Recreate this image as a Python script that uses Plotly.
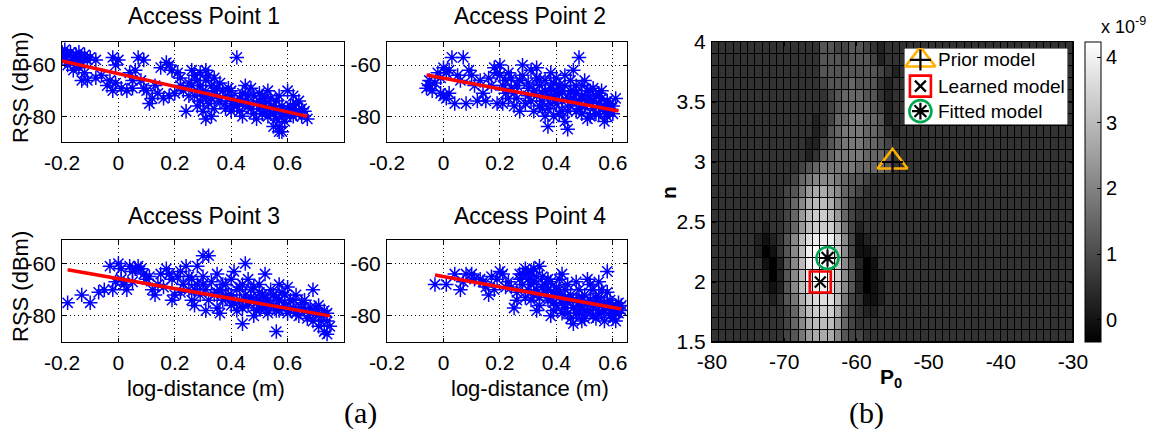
import plotly.graph_objects as go

W, H = 1163, 435

# ---------------- data ----------------
AP1_POINTS = [(-0.20,-55),(-0.19,-54),(-0.18,-56),(-0.17,-55),(-0.16,-57),(-0.15,-56),(-0.14,-55),(-0.13,-57),(-0.12,-56),
    (-0.19,-58),(-0.17,-59),(-0.15,-60),(-0.13,-59),(-0.11,-58),(-0.10,-57),(-0.08,-58),(-0.16,-62),(-0.14,-61),(-0.12,-63),
    (-0.11,-66),(-0.13,-66),(-0.08,-65),(-0.06,-64),(-0.02,-57),(0.00,-58),(-0.01,-60),(-0.03,-66),(-0.01,-67),(-0.02,-70),
    (0.01,-69),(0.03,-70),(0.05,-69),(0.07,-57),(0.09,-58),(0.06,-62),(0.04,-63),(0.08,-66),(0.09,-69),(0.10,-70),(0.11,-75),
    (0.12,-73),(0.14,-71),(0.15,-61),(0.17,-59),(0.18,-60),(0.19,-62),(0.16,-73),(0.18,-72),(0.20,-71),(0.21,-63),(0.22,-65),
    (0.24,-78),(0.23,-70),(0.25,-67),(0.26,-62),(0.27,-64),(0.28,-66),(0.29,-68),(0.30,-70),(0.30,-72),(0.29,-74),(0.31,-66),
    (0.32,-64),(0.33,-68),(0.34,-70),(0.35,-72),(0.32,-75),(0.34,-77),(0.30,-78),(0.31,-81),(0.33,-80),(0.36,-74),(0.37,-70),
    (0.38,-72),(0.28,-76),(0.27,-72),(0.42,-57),(0.39,-69),(0.40,-72),(0.41,-74),(0.42,-76),(0.43,-78),(0.44,-71),(0.45,-74),
    (0.46,-76),(0.45,-68),(0.47,-69),(0.48,-79),(0.48,-72),(0.50,-74),(0.50,-77),(0.51,-72),(0.52,-75),(0.52,-78),(0.53,-80),
    (0.53,-70),(0.54,-73),(0.55,-76),(0.55,-79),(0.56,-74),(0.56,-81),(0.57,-78),(0.57,-84),(0.58,-80),(0.58,-86),(0.59,-82),
    (0.60,-70),(0.60,-77),(0.61,-79),(0.62,-72),(0.63,-75),(0.64,-74),(0.65,-77),(0.65,-80),(0.66,-78),(0.67,-81),(0.62,-80),
    (0.49,-81),(0.44,-80),(0.40,-78),(0.38,-77),
    (0.26,-68),(0.28,-70),(0.31,-72),(0.33,-73),(0.35,-69),(0.36,-67),(0.38,-75),(0.40,-70),(0.41,-76),(0.43,-73),(0.44,-75),
    (0.46,-72),(0.47,-77),(0.49,-75),(0.50,-71),(0.51,-79),(0.52,-73),(0.54,-76),(0.54,-79),(0.56,-77),(0.57,-72),(0.58,-76),
    (0.59,-79),(0.61,-76),(0.62,-77),(0.63,-79),(0.64,-78),(0.55,-84),(0.57,-86),(0.29,-63),(0.31,-62),(0.34,-65),(0.25,-72),
    (0.22,-68),(0.13,-68),(0.05,-66),(-0.04,-68),(-0.18,-60),(-0.20,-57),(-0.15,-58)]
AP2_POINTS = [(-0.06,-69),(-0.05,-68),(-0.04,-70),(-0.05,-66),(-0.02,-63),(-0.01,-65),(0.00,-61),(0.01,-63),(0.02,-62),
    (-0.01,-71),(0.00,-72),(0.01,-73),(0.02,-71),(0.03,-57),(0.07,-57),(0.04,-75),(0.08,-75),(0.09,-62),(0.06,-66),(0.05,-64),
    (0.11,-68),(0.12,-74),(0.15,-74),(0.13,-66),(0.16,-65),(0.18,-61),(0.20,-60),(0.19,-63),(0.19,-75),(0.21,-75),(0.22,-66),
    (0.23,-63),(0.24,-69),(0.25,-71),(0.25,-76),(0.26,-73),(0.27,-66),(0.28,-64),(0.30,-67),(0.31,-62),(0.30,-72),(0.32,-78),
    (0.32,-70),(0.33,-65),(0.34,-68),(0.35,-71),(0.35,-74),(0.36,-66),(0.37,-84),(0.37,-77),(0.38,-69),(0.39,-80),(0.39,-72),
    (0.40,-65),(0.40,-75),(0.41,-68),(0.42,-70),(0.42,-78),(0.43,-82),(0.44,-85),(0.44,-73),(0.45,-66),(0.45,-76),(0.46,-62),
    (0.46,-70),(0.47,-68),(0.48,-57),(0.48,-74),(0.49,-72),(0.49,-79),(0.50,-66),(0.50,-76),(0.51,-70),(0.51,-81),(0.52,-73),
    (0.53,-69),(0.53,-77),(0.54,-72),(0.55,-75),(0.55,-79),(0.56,-70),(0.57,-76),(0.58,-80),(0.58,-74),(0.59,-78),(0.60,-76),
    (0.61,-73),(0.57,-82),(0.52,-80),(0.47,-78),(0.41,-79),(0.36,-80),(0.34,-76),(0.29,-75),(0.27,-78),(0.22,-71),(0.17,-68),
    (0.14,-71),(0.43,-64),(0.38,-63),(0.33,-61),(0.28,-60),(0.21,-68),(0.10,-64),
    (0.30,-69),(0.31,-74),(0.33,-72),(0.34,-66),(0.36,-70),(0.37,-72),(0.38,-75),(0.39,-67),(0.41,-71),(0.42,-74),(0.43,-68),
    (0.44,-78),(0.46,-73),(0.47,-71),(0.48,-77),(0.50,-73),(0.51,-75),(0.52,-70),(0.53,-74),(0.54,-79),(0.56,-73),(0.57,-78),
    (0.58,-77),(0.59,-75),(0.60,-79),(0.55,-71),(0.49,-68),(0.45,-70),(0.40,-70),(0.35,-77),(0.26,-68),(0.23,-73),(0.20,-64),
    (0.24,-65),(-0.03,-67)]
AP3_POINTS = [(-0.18,-75),(-0.13,-72),(-0.10,-75),(-0.07,-71),(-0.05,-70),(-0.02,-70),(-0.03,-61),(0.00,-60),(0.01,-62),
    (-0.01,-67),(0.01,-66),(0.02,-68),(0.03,-70),(0.04,-61),(0.05,-63),(0.06,-62),(0.07,-61),(0.08,-62),(0.09,-64),(0.10,-66),
    (0.11,-65),(0.12,-70),(0.13,-72),(0.14,-68),(0.17,-62),(0.18,-64),(0.19,-74),(0.19,-66),(0.20,-72),(0.21,-65),(0.22,-63),
    (0.23,-68),(0.24,-61),(0.25,-70),(0.26,-74),(0.26,-66),(0.27,-76),(0.28,-61),(0.28,-68),(0.29,-72),(0.30,-57),(0.30,-65),
    (0.31,-70),(0.32,-57),(0.32,-74),(0.33,-67),(0.34,-72),(0.35,-77),(0.35,-64),(0.36,-70),(0.37,-74),(0.38,-68),(0.39,-72),
    (0.40,-66),(0.40,-76),(0.41,-63),(0.42,-70),(0.42,-78),(0.43,-74),(0.44,-83),(0.44,-68),(0.45,-60),(0.45,-72),(0.46,-66),
    (0.46,-76),(0.47,-70),(0.48,-74),(0.49,-78),(0.50,-71),(0.50,-68),(0.51,-75),(0.52,-73),(0.53,-79),(0.54,-70),(0.55,-76),
    (0.56,-86),(0.56,-73),(0.57,-78),(0.58,-71),(0.59,-75),(0.60,-69),(0.60,-79),(0.61,-74),(0.62,-77),(0.63,-72),(0.64,-80),
    (0.65,-75),(0.66,-78),(0.67,-81),(0.68,-77),(0.69,-70),(0.69,-82),(0.70,-79),(0.71,-76),(0.71,-84),(0.72,-80),(0.73,-86),
    (0.73,-78),(0.74,-82),(0.74,-87),(0.75,-84),(0.36,-79),(0.31,-78),(0.52,-64),(0.57,-68),(0.48,-80),
    (0.35,-71),(0.37,-68),(0.38,-73),(0.40,-72),(0.41,-75),(0.43,-69),(0.44,-77),(0.45,-74),(0.47,-73),(0.48,-69),(0.49,-75),
    (0.50,-77),(0.51,-72),(0.52,-77),(0.53,-74),(0.54,-76),(0.55,-72),(0.56,-78),(0.57,-74),(0.58,-77),(0.59,-72),(0.61,-78),
    (0.62,-74),(0.63,-79),(0.65,-77),(0.66,-74),(0.68,-79),(0.70,-77),(0.72,-82),(0.74,-79),(0.30,-68),(0.27,-70),(0.25,-65),
    (0.22,-71),(0.16,-69),(0.15,-64),(0.05,-67)]
AP4_POINTS = [(-0.03,-68),(0.01,-68),(0.04,-64),(0.06,-70),(0.08,-64),(0.10,-64),(0.07,-67),(0.13,-66),(0.14,-67),(0.16,-72),
    (0.17,-65),(0.20,-63),(0.21,-64),(0.22,-69),(0.18,-70),(0.25,-77),(0.27,-66),(0.28,-68),(0.29,-62),(0.31,-63),(0.30,-70),
    (0.32,-72),(0.33,-65),(0.34,-61),(0.35,-65),(0.36,-68),(0.37,-74),(0.38,-67),(0.39,-71),(0.40,-76),(0.40,-69),(0.41,-73),
    (0.42,-64),(0.42,-79),(0.43,-70),(0.44,-75),(0.45,-72),(0.45,-81),(0.46,-83),(0.46,-77),(0.47,-74),(0.48,-70),(0.48,-79),
    (0.49,-76),(0.50,-72),(0.50,-81),(0.51,-66),(0.51,-78),(0.52,-74),(0.53,-70),(0.53,-80),(0.54,-76),(0.55,-67),(0.55,-73),
    (0.56,-79),(0.57,-82),(0.57,-75),(0.58,-63),(0.58,-71),(0.59,-78),(0.59,-74),(0.60,-81),(0.60,-76),(0.61,-79),(0.62,-77),
    (0.62,-75),(0.63,-78),(0.56,-70),(0.52,-68),(0.47,-67),(0.44,-68),(0.34,-76),(0.31,-74),(0.29,-73),(0.26,-71),(0.23,-67),
    (0.36,-71),(0.39,-78),(0.43,-77),(0.49,-82),(0.54,-81),(0.61,-82),(0.28,-64),(0.32,-67),(0.37,-66),(0.41,-66),(0.33,-78),
    (0.38,-80),(0.26,-74),
    (0.30,-66),(0.31,-68),(0.33,-70),(0.34,-73),(0.35,-69),(0.37,-70),(0.38,-73),(0.39,-75),(0.40,-72),(0.41,-70),(0.42,-75),
    (0.43,-73),(0.44,-79),(0.46,-74),(0.47,-79),(0.48,-76),(0.49,-73),(0.50,-78),(0.51,-75),(0.52,-78),(0.53,-76),(0.54,-73),
    (0.55,-79),(0.56,-76),(0.57,-78),(0.58,-75),(0.59,-80),(0.60,-78),(0.61,-76),(0.62,-79),(0.63,-76),(0.32,-62),(0.30,-64),
    (0.27,-64),(0.24,-69),(0.19,-66),(0.15,-69),(0.11,-66)]

AP1_FIT_X, AP1_FIT_Y = [-0.20, 0.67], [-58.4, -80.0]
AP2_FIT_X, AP2_FIT_Y = [-0.06, 0.62], [-63.9, -77.9]
AP3_FIT_X, AP3_FIT_Y = [-0.18, 0.75], [-62.4, -80.0]
AP4_FIT_X, AP4_FIT_Y = [-0.03, 0.63], [-64.4, -77.4]

AP_TITLES = ["Access Point 1", "Access Point 2", "Access Point 3", "Access Point 4"]
X_TICKS = [-0.2, 0, 0.2, 0.4, 0.6]
X_TICK_TEXT = ["-0.2", "0", "0.2", "0.4", "0.6"]
Y_TICKS = [-80, -60]
Y_TICK_TEXT = ["-80", "-60"]

# heatmap: cell edges and grey levels (0 = black ... f = white), rows from n=4 (top) down to n=1.5
P0_EDGES = list(range(-80, -29))
N_EDGES = [1.5,1.6,1.7,1.8,1.9,2.0,2.1,2.2,2.3,2.4,2.5,2.6,2.7,2.8,2.9,3.0,3.1,3.2,3.3,3.4,3.5,3.6,3.7,3.8,3.9,4.0]
LEVEL_ROWS_TOP_DOWN = [
    "3333333333 3333355445 5432333333 3333333333 3333333333",
    "3333333333 3333355545 5542333333 3333333333 3333333333",
    "3333333333 3333355555 5554323333 3333333333 3333333333",
    "3333333333 3333345556 5553233333 3333333333 3333333333",
    "3333333333 3333334566 6553233333 3333333333 3333333333",
    "3333333333 3333334566 6654233333 3333333333 3333333333",
    "3333333333 3333234667 7665233333 3333333333 3333333333",
    "3333333333 3333235677 7665323333 3333333333 3333333333",
    "3333333333 3332245677 7665433333 3333333333 3333333333",
    "3333333333 3332356777 7666533333 3333333333 3333333333",
    "3333333333 3345677777 6666533333 3333333333 3333333333",
    "3333333333 3467888765 5433333333 3333333333 3333333333",
    "3333333333 4579aa9865 4333333333 3333333333 3333333333",
    "3333333333 468abba864 3333333333 3333333333 3333333333",
    "3333333333 469bccb964 3333333333 3333333333 3333333333",
    "3333333233 469bccca74 2333333333 3333333333 3333333333",
    "3333332123 58bdeeec84 1233333333 3333333333 3333333333",
    "3333332013 58beffec84 1123333333 3333333333 3333333333",
    "3333333102 58befffc85 2013333333 3333333333 3333333333",
    "3333333202 58beffec85 2012333333 3333333333 3333333333",
    "3333333212 58bdeeeb85 2012333333 3333333333 3333333333",
    "3333333323 57acdddb74 3112333333 3333333333 3333333333",
    "3333333333 469bccca64 3223333333 3333333333 3333333333",
    "3333333333 468abbb964 3333333333 3333333333 3333333333",
    "3333333333 4579aaa854 4333333333 3333333333 3333333333",
]
Z_MIN, Z_MAX = -0.34, 4.23          # colour bar limits (x 1e-9)
CB_TICKS = [0, 1, 2, 3, 4]
P0_TICKS = [-80, -70, -60, -50, -40, -30]
N_TICKS = [1.5, 2, 2.5, 3, 3.5, 4]

PRIOR = (-55, 3.0)
LEARNED = (-65, 2.0)
FITTED = (-64, 2.2)
LEGEND_LABELS = ["Prior model", "Learned model", "Fitted model"]

# ---------------- helpers ----------------
FONT = "Liberation Sans, Arial, Helvetica, sans-serif"
def fx(p): return p / W
def fy(p): return 1 - p / H

fig = go.Figure()

panels = [
    (AP1_POINTS, AP1_FIT_X, AP1_FIT_Y, (62, 344), (42, 142), [-0.2, 0.8]),
    (AP2_POINTS, AP2_FIT_X, AP2_FIT_Y, (387, 627), (42, 142), [-0.2, 0.65]),
    (AP3_POINTS, AP3_FIT_X, AP3_FIT_Y, (62, 344), (240, 342), [-0.2, 0.8]),
    (AP4_POINTS, AP4_FIT_X, AP4_FIT_Y, (387, 627), (240, 342), [-0.2, 0.65]),
]
layout_axes = {}
for i, (pts, lx, ly, dx, dy, xr) in enumerate(panels, start=1):
    xs = [p[0] for p in pts]
    ys = [p[1] for p in pts]
    xa, ya = f"x{i}", f"y{i}"
    fig.add_trace(go.Scatter(x=xs, y=ys, mode="markers", xaxis=xa, yaxis=ya, showlegend=False,
                             marker=dict(symbol="asterisk-open", size=12, color="#0000FF",
                                         line=dict(color="#0000FF", width=1.5))))
    fig.add_trace(go.Scatter(x=lx, y=ly, mode="lines", xaxis=xa, yaxis=ya, showlegend=False,
                             line=dict(color="#FF0000", width=3.5)))
    common = dict(showline=True, linecolor="black", linewidth=1, mirror="allticks", ticks="inside",
                  ticklen=4, tickcolor="black", showgrid=True, gridcolor="black", griddash="1px,3px",
                  gridwidth=1, zeroline=False, automargin=False,
                  tickfont=dict(family=FONT, size=21, color="black"))
    layout_axes[f"xaxis{i}"] = dict(domain=[fx(dx[0]), fx(dx[1])], range=xr, anchor=ya,
                                    tickvals=X_TICKS, ticktext=X_TICK_TEXT, ticklabelstandoff=2, **common)
    layout_axes[f"yaxis{i}"] = dict(domain=[fy(dy[1]), fy(dy[0])], range=[-90, -51], anchor=xa,
                                    tickvals=Y_TICKS, ticktext=Y_TICK_TEXT, ticklabelstandoff=1, **common)

# heatmap
rows = [r.replace(" ", "") for r in LEVEL_ROWS_TOP_DOWN][::-1]
z = [[Z_MIN + int(c, 16) / 15 * (Z_MAX - Z_MIN) for c in row] for row in rows]
fig.add_trace(go.Heatmap(z=z, x=P0_EDGES, y=N_EDGES, xaxis="x5", yaxis="y5",
                         colorscale=[[0, "#000000"], [1, "#FFFFFF"]], zmin=Z_MIN, zmax=Z_MAX,
                         xgap=1, ygap=1, hoverinfo="skip",
                         colorbar=dict(x=fx(1085), xanchor="left", y=fy(342), yanchor="bottom",
                                       len=300 / H, lenmode="fraction", thickness=16, thicknessmode="pixels",
                                       xpad=0, ypad=0, outlinecolor="black", outlinewidth=1,
                                       tickvals=CB_TICKS, ticktext=[str(t) for t in CB_TICKS],
                                       ticks="inside", ticklen=4, tickcolor="black",
                                       tickfont=dict(family=FONT, size=20, color="black"))))

def model_markers(pt, outer, outer_color, outer_size, inner, inner_size, xa, ya):
    fig.add_trace(go.Scatter(x=[pt[0]], y=[pt[1]], mode="markers", xaxis=xa, yaxis=ya, showlegend=False,
                             hoverinfo="skip",
                             marker=dict(symbol=outer, size=outer_size, color=outer_color,
                                         line=dict(color=outer_color, width=2.6))))
    fig.add_trace(go.Scatter(x=[pt[0]], y=[pt[1]], mode="markers", xaxis=xa, yaxis=ya, showlegend=False,
                             hoverinfo="skip",
                             marker=dict(symbol=inner, size=inner_size, color="black",
                                         line=dict(color="black", width=2.2))))

ORANGE, RED, GREEN = "#FFB000", "#FF0000", "#00A651"
model_markers(PRIOR, "triangle-up-open", ORANGE, 26, "cross-thin-open", 15, "x5", "y5")
model_markers(LEARNED, "square-open", RED, 21, "x-thin-open", 11, "x5", "y5")
model_markers(FITTED, "circle-open", GREEN, 22, "asterisk-open", 14, "x5", "y5")

hm_common = dict(showline=True, linecolor="black", linewidth=1, mirror="allticks", ticks="inside",
                 ticklen=4, tickcolor="black", showgrid=False, zeroline=False, automargin=False,
                 tickfont=dict(family=FONT, size=21, color="black"))
layout_axes["xaxis5"] = dict(domain=[fx(712), fx(1073)], range=[-80, -30], anchor="y5",
                             tickvals=P0_TICKS, ticktext=[str(t) for t in P0_TICKS], ticklabelstandoff=1, **hm_common)
layout_axes["yaxis5"] = dict(domain=[fy(342), fy(42)], range=[1.5, 4], anchor="x5",
                             tickvals=N_TICKS, ticktext=["1.5", "2", "2.5", "3", "3.5", "4"], ticklabelstandoff=1,
                             **hm_common)

# legend drawn in its own small subplot
LEG_ROW_Y = [0.845, 0.505, 0.18]
fig.add_trace(go.Scatter(x=[0, 1, 1, 0, 0], y=[0, 0, 1, 1, 0], mode="lines", fill="toself",
                         fillcolor="white", line=dict(color="black", width=1), xaxis="x6", yaxis="y6",
                         showlegend=False, hoverinfo="skip"))
model_markers((0.1, LEG_ROW_Y[0]), "triangle-up-open", ORANGE, 26, "cross-thin-open", 15, "x6", "y6")
model_markers((0.1, LEG_ROW_Y[1]), "square-open", RED, 21, "x-thin-open", 11, "x6", "y6")
model_markers((0.1, LEG_ROW_Y[2]), "circle-open", GREEN, 22, "asterisk-open", 14, "x6", "y6")
layout_axes["xaxis6"] = dict(domain=[fx(904), fx(1068)], range=[0, 1], anchor="y6", visible=False,
                             fixedrange=True, automargin=False)
layout_axes["yaxis6"] = dict(domain=[fy(125), fy(48)], range=[0, 1], anchor="x6", visible=False,
                             fixedrange=True, automargin=False)

# black lines between heatmap cells
shapes = [dict(type="rect", xref="x5 domain", yref="y5 domain", x0=0, x1=1, y0=0, y1=1,
               fillcolor="black", line=dict(width=0), layer="below")]

def ann(text, x, y, size=22, angle=0, family=FONT, xanchor="center", yanchor="middle"):
    return dict(text=text, x=fx(x), y=fy(y), xref="paper", yref="paper", showarrow=False,
                textangle=angle, xanchor=xanchor, yanchor=yanchor,
                font=dict(family=family, size=size, color="black"))

annotations = [
    ann(AP_TITLES[0], 204, 16, size=23), ann(AP_TITLES[1], 530, 16, size=23),
    ann(AP_TITLES[2], 204, 216, size=23), ann(AP_TITLES[3], 530, 216, size=23),
    ann("RSS (dBm)", 20, 88, angle=-90), ann("RSS (dBm)", 20, 287, angle=-90),
    ann("log-distance (m)", 206, 388), ann("log-distance (m)", 530, 388),
    ann("(a)", 360, 413, size=30, family="Liberation Serif, Times New Roman, serif"),
    ann("(b)", 866, 413, size=30, family="Liberation Serif, Times New Roman, serif"),
    ann("<b>n</b>", 668, 192, size=21, angle=-90),
    ann("<b>P<sub>0</sub></b>", 891, 378, size=21),
    ann("x 10<sup>-9</sup>", 1148, 25, size=18, xanchor="right"),
]
for lbl, yy in zip(LEGEND_LABELS, [59, 86, 111]):
    annotations.append(ann(lbl, 936, yy, size=19, xanchor="left"))

fig.update_layout(width=W, height=H, margin=dict(l=0, r=0, t=0, b=0, autoexpand=False), paper_bgcolor="white",
                  plot_bgcolor="white", shapes=shapes, annotations=annotations, showlegend=False,
                  hovermode=False, font=dict(family=FONT, color="black"), **layout_axes)

fig.write_html("out.html", config={"displayModeBar": False},
               post_script="document.body.style.margin='0px';document.body.style.overflow='hidden';")
